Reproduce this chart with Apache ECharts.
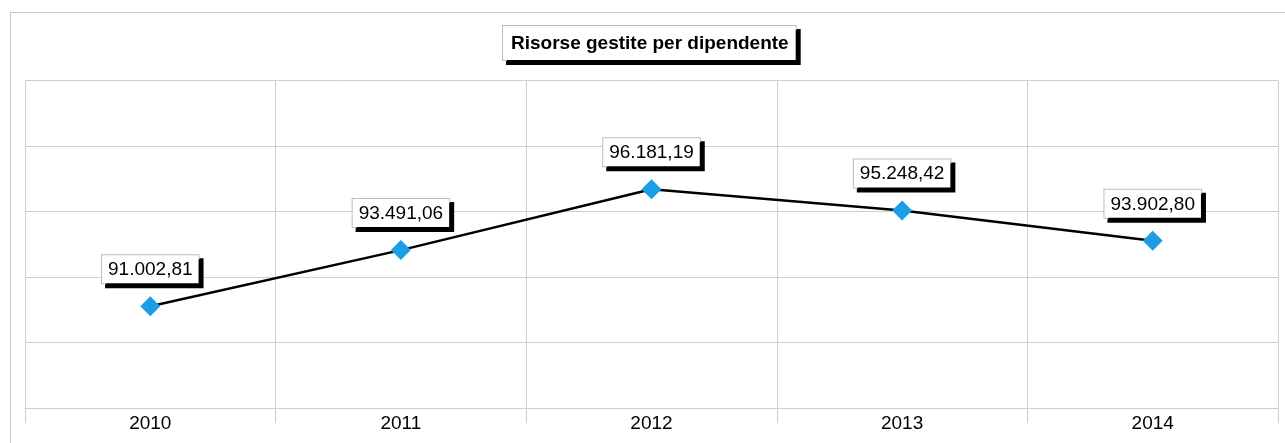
<!DOCTYPE html>
<html>
<head>
<meta charset="utf-8">
<script src="https://cdn.jsdelivr.net/npm/echarts@6/dist/echarts.min.js"></script>
<style>
  html, body { margin: 0; padding: 0; background: #fff; }
  #chart { width: 1285px; height: 443px; }
</style>
</head>
<body>
<div id="chart"></div>
<script>
const years = ['2010', '2011', '2012', '2013', '2014']
const risorse = [91002.81, 93491.06, 96181.19, 95248.42, 93902.80]

// numero in formato italiano: 91.002,81
function fmtIt(v) {
  let parts = v.toFixed(2).split('.')
  let int = parts[0].replace(/\B(?=(\d{3})+(?!\d))/g, '.')
  return int + ',' + parts[1]
}

const font = 'Arial, "Liberation Sans", sans-serif'
const gridColor = '#cfcfcf'

let chart = echarts.init(document.getElementById('chart'))
chart.setOption({
  animation: false,
  backgroundColor: '#fff',
  title: {
    text: '{box|Risorse gestite per dipendente}',
    left: 503,
    top: 26,
    padding: 0,
    textStyle: {
      rich: {
        box: {
          fontFamily: font,
          fontSize: 19,
          fontWeight: 'bold',
          color: '#000',
          padding: [8, 7, 7, 8],
          backgroundColor: '#fff',
          borderColor: '#bdbdbd',
          borderWidth: 1,
          shadowColor: '#000',
          shadowBlur: 0,
          shadowOffsetX: 4,
          shadowOffsetY: 4
        }
      }
    }
  },
  graphic: [
    {
      type: 'rect',
      silent: true,
      shape: { x: 10.5, y: 12.5, width: 1290, height: 440 },
      style: { fill: 'none', stroke: '#c8c8c8', lineWidth: 1 }
    }
  ],
  grid: {
    left: 25,
    right: 7,
    top: 80.5,
    bottom: 35
  },
  xAxis: {
    type: 'category',
    data: years,
    boundaryGap: true,
    axisLine: { show: true, lineStyle: { color: gridColor } },
    axisTick: { show: true, length: 15, lineStyle: { color: gridColor } },
    splitLine: { show: true, lineStyle: { color: gridColor } },
    axisLabel: {
      margin: 6,
      fontFamily: font,
      fontSize: 19,
      color: '#000'
    }
  },
  yAxis: {
    type: 'value',
    min: 86500,
    max: 101000,
    interval: 2900,
    axisLine: { show: false },
    axisTick: { show: false },
    axisLabel: { show: false },
    splitLine: { show: true, lineStyle: { color: gridColor } }
  },
  series: [
    {
      name: 'Risorse gestite per dipendente',
      type: 'line',
      data: risorse,
      symbol: 'diamond',
      symbolSize: 20,
      itemStyle: { color: '#1a9fe6' },
      lineStyle: { color: '#000', width: 2.5 },
      label: {
        show: true,
        position: 'top',
        distance: 13,
        formatter: p => fmtIt(p.value),
        fontFamily: font,
        fontSize: 19,
        color: '#000',
        padding: [5, 6, 4, 6],
        backgroundColor: '#fff',
        borderColor: '#bdbdbd',
        borderWidth: 1,
        shadowColor: '#000',
        shadowBlur: 0,
        shadowOffsetX: 4,
        shadowOffsetY: 4
      }
    }
  ]
})
</script>
</body>
</html>
